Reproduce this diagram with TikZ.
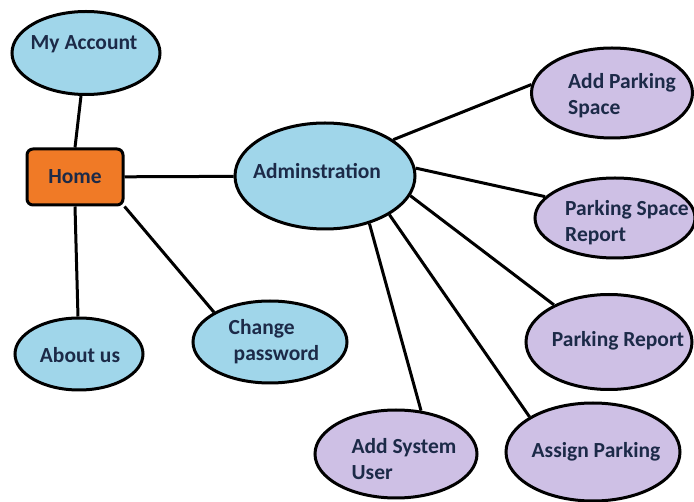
\documentclass[tikz,border=0pt]{standalone}
\usepackage{fontspec}
\setmainfont{Carlito}
\usetikzlibrary{shapes.geometric}
\definecolor{skyfill}{RGB}{160,214,234}
\definecolor{lilacfill}{RGB}{206,192,229}
\definecolor{homefill}{RGB}{240,122,38}
\definecolor{navytext}{RGB}{28,42,72}
\tikzset{
  usecase/.style={ellipse, draw, line width=3pt, inner sep=0pt},
  blueuc/.style={usecase, fill=skyfill},
  purpleuc/.style={usecase, fill=lilacfill},
  uctext/.style={inner sep=0pt, align=left,
    font=\fontsize{21.5}{26}\selectfont\bfseries, text=navytext},
  homebox/.style={draw, line width=3pt, rounded corners=6pt, fill=homefill,
    minimum width=96pt, minimum height=56pt,
    font=\fontsize{21.5}{26}\selectfont\bfseries, text=navytext},
  link/.style={line width=3pt}
}
\begin{document}
\begin{tikzpicture}[x=1pt,y=1pt]
\useasboundingbox (0,0) rectangle (694,-502);

% home side
\node[homebox] (home) at (75,-177) {Home};

\node[blueuc, minimum width=148pt, minimum height=83pt] (acc) at (86,-53) {};
\node[uctext] (acctext) at (84,-44) {My Account};

\node[blueuc, minimum width=128pt, minimum height=72pt] (about) at (79,-354) {};
\node[uctext] (abouttext) at (80,-355) {About us};

\node[blueuc, minimum width=154pt, minimum height=82pt] (chg) at (270,-342) {};
\node[uctext] (chgtext) at (274,-342) {Change\\ \hspace{5pt}password};

% admin side
\node[blueuc, minimum width=180pt, minimum height=106pt] (admin) at (325,-176) {};
\node[uctext] (admintext) at (317,-171) {Adminstration};

\node[purpleuc, minimum width=161pt, minimum height=90pt] (addps) at (612,-93) {};
\node[uctext] (addpstext) at (622,-96) {Add Parking\\ Space};

\node[purpleuc, minimum width=160pt, minimum height=80pt] (psr) at (615,-218) {};
\node[uctext] (psrtext) at (627,-223) {Parking Space\\ Report};

\node[purpleuc, minimum width=166pt, minimum height=95pt] (prep) at (609,-342) {};
\node[uctext] (preptext) at (618,-341) {Parking Report};

\node[purpleuc, minimum width=174pt, minimum height=98pt] (assign) at (593,-452) {};
\node[uctext] (assigntext) at (596,-452) {Assign Parking};

\node[purpleuc, minimum width=162pt, minimum height=88pt] (addsu) at (396,-454) {};
\node[uctext] (addsutext) at (404,-459) {Add System\\ User};

\draw[link] (home.north) -- (acc);
\draw[link] (home.south) -- (about);
\draw[link] (home.south east) -- (chg.152);
\draw[link] (home) -- (admin);

\draw[link] (admin.28) -- (addps.174);
\draw[link] (admin.5) -- (psr.163);
\draw[link] (admin.-13) -- (prep.146);
\draw[link] (admin.-31) -- (assign.151);
\draw[link] (admin.-47) -- (addsu.60);
\end{tikzpicture}
\end{document}
